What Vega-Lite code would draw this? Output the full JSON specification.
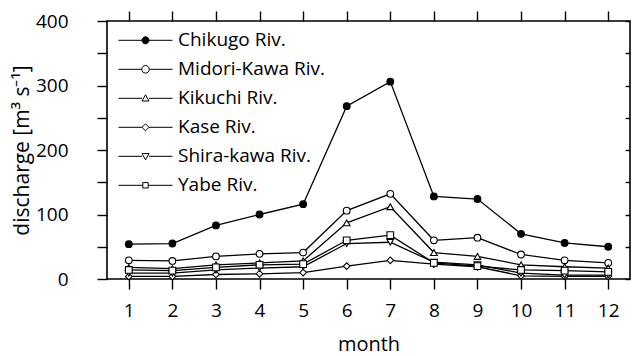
{
  "$schema": "https://vega.github.io/schema/vega-lite/v6.json",
  "width": 523,
  "height": 258,
  "autosize": "none",
  "padding": {"left": 107, "top": 21, "right": 7, "bottom": 77},
  "background": "white",
  "config": {
    "view": {"stroke": "black", "strokeWidth": 1.6},
    "font": "Open Sans",
    "axis": {"domain": false, "grid": false, "tickColor": "black", "labelColor": "black", "titleColor": "black", "tickWidth": 1.4, "labelFont": "Open Sans", "titleFont": "Open Sans", "labelFontWeight": "normal", "titleFontWeight": "normal"}
  },
  "data": {"values": [
    {"month":1,"river":"Chikugo Riv.","q":54},{"month":2,"river":"Chikugo Riv.","q":55},{"month":3,"river":"Chikugo Riv.","q":83},{"month":4,"river":"Chikugo Riv.","q":100},{"month":5,"river":"Chikugo Riv.","q":116},{"month":6,"river":"Chikugo Riv.","q":268},{"month":7,"river":"Chikugo Riv.","q":306},{"month":8,"river":"Chikugo Riv.","q":128},{"month":9,"river":"Chikugo Riv.","q":124},{"month":10,"river":"Chikugo Riv.","q":70},{"month":11,"river":"Chikugo Riv.","q":56},{"month":12,"river":"Chikugo Riv.","q":50},
    {"month":1,"river":"Midori-Kawa Riv.","q":29},{"month":2,"river":"Midori-Kawa Riv.","q":28},{"month":3,"river":"Midori-Kawa Riv.","q":35},{"month":4,"river":"Midori-Kawa Riv.","q":39},{"month":5,"river":"Midori-Kawa Riv.","q":41},{"month":6,"river":"Midori-Kawa Riv.","q":106},{"month":7,"river":"Midori-Kawa Riv.","q":132},{"month":8,"river":"Midori-Kawa Riv.","q":60},{"month":9,"river":"Midori-Kawa Riv.","q":64},{"month":10,"river":"Midori-Kawa Riv.","q":38},{"month":11,"river":"Midori-Kawa Riv.","q":29},{"month":12,"river":"Midori-Kawa Riv.","q":25},
    {"month":1,"river":"Kikuchi Riv.","q":18},{"month":2,"river":"Kikuchi Riv.","q":16},{"month":3,"river":"Kikuchi Riv.","q":22},{"month":4,"river":"Kikuchi Riv.","q":25},{"month":5,"river":"Kikuchi Riv.","q":28},{"month":6,"river":"Kikuchi Riv.","q":87},{"month":7,"river":"Kikuchi Riv.","q":112},{"month":8,"river":"Kikuchi Riv.","q":41},{"month":9,"river":"Kikuchi Riv.","q":35},{"month":10,"river":"Kikuchi Riv.","q":22},{"month":11,"river":"Kikuchi Riv.","q":19},{"month":12,"river":"Kikuchi Riv.","q":17},
    {"month":1,"river":"Kase Riv.","q":4},{"month":2,"river":"Kase Riv.","q":4},{"month":3,"river":"Kase Riv.","q":7},{"month":4,"river":"Kase Riv.","q":8},{"month":5,"river":"Kase Riv.","q":10},{"month":6,"river":"Kase Riv.","q":20},{"month":7,"river":"Kase Riv.","q":29},{"month":8,"river":"Kase Riv.","q":23},{"month":9,"river":"Kase Riv.","q":19},{"month":10,"river":"Kase Riv.","q":5},{"month":11,"river":"Kase Riv.","q":4},{"month":12,"river":"Kase Riv.","q":4},
    {"month":1,"river":"Shira-kawa Riv.","q":9},{"month":2,"river":"Shira-kawa Riv.","q":9},{"month":3,"river":"Shira-kawa Riv.","q":14},{"month":4,"river":"Shira-kawa Riv.","q":17},{"month":5,"river":"Shira-kawa Riv.","q":19},{"month":6,"river":"Shira-kawa Riv.","q":55},{"month":7,"river":"Shira-kawa Riv.","q":57},{"month":8,"river":"Shira-kawa Riv.","q":26},{"month":9,"river":"Shira-kawa Riv.","q":22},{"month":10,"river":"Shira-kawa Riv.","q":9},{"month":11,"river":"Shira-kawa Riv.","q":6},{"month":12,"river":"Shira-kawa Riv.","q":6},
    {"month":1,"river":"Yabe Riv.","q":14},{"month":2,"river":"Yabe Riv.","q":13},{"month":3,"river":"Yabe Riv.","q":18},{"month":4,"river":"Yabe Riv.","q":22},{"month":5,"river":"Yabe Riv.","q":23},{"month":6,"river":"Yabe Riv.","q":60},{"month":7,"river":"Yabe Riv.","q":68},{"month":8,"river":"Yabe Riv.","q":25},{"month":9,"river":"Yabe Riv.","q":20},{"month":10,"river":"Yabe Riv.","q":14},{"month":11,"river":"Yabe Riv.","q":13},{"month":12,"river":"Yabe Riv.","q":11}
  ]},
  "layer": [
    {
      "mark": {"type": "line", "color": "black", "strokeWidth": 1.3},
      "encoding": {
        "x": {"field": "month", "type": "quantitative", "scale": {"domain": [0.5, 12.5], "nice": false, "zero": false},
          "axis": {"orient": "bottom", "values": [1,2,3,4,5,6,7,8,9,10,11,12], "tickSize": 10, "labelFontSize": 19, "labelPadding": 12, "title": "month", "titleFontSize": 20, "titlePadding": 14}},
        "y": {"field": "q", "type": "quantitative", "scale": {"domain": [0, 400], "nice": false},
          "axis": {"orient": "left", "values": [0,50,100,150,200,250,300,350,400], "labelExpr": "datum.value % 100 === 0 ? datum.label : ''", "tickSize": 10, "labelFontSize": 19, "labelPadding": 29, "title": "discharge [m³ s⁻¹]", "titleFontSize": 21, "titlePadding": 3,
            "encode": {"labels": {"update": {"dx": {"value": -9}}}}}},
        "detail": {"field": "river", "type": "nominal"}
      }
    },
    {
      "mark": {"type": "point", "filled": false, "stroke": "black", "strokeWidth": 1.1, "opacity": 1, "size": 45},
      "encoding": {
        "x": {"field": "month", "type": "quantitative",
          "axis": {"orient": "top", "values": [1,2,3,4,5,6,7,8,9,10,11,12], "labels": false, "tickSize": 10, "title": null}},
        "y": {"field": "q", "type": "quantitative",
          "axis": {"orient": "right", "values": [0,50,100,150,200,250,300,350,400], "labels": false, "tickSize": -5, "title": null}},
        "shape": {"field": "river", "type": "nominal",
          "scale": {"domain": ["Chikugo Riv.","Midori-Kawa Riv.","Kikuchi Riv.","Kase Riv.","Shira-kawa Riv.","Yabe Riv."], "range": ["circle","circle","triangle-up","diamond","triangle-down","square"]},
          "legend": null},
        "fill": {"condition": {"test": "datum.river === 'Chikugo Riv.'", "value": "black"}, "value": "white"}
      }
    },
    {
      "mark": {"type": "point", "opacity": 0, "filled": true, "stroke": "black", "strokeWidth": 1},
      "encoding": {
        "x": {"field": "month", "type": "quantitative", "axis": null},
        "y": {"field": "q", "type": "quantitative", "axis": null},
        "fill": {"field": "river", "type": "nominal",
          "scale": {"domain": ["Chikugo Riv.","Midori-Kawa Riv.","Kikuchi Riv.","Kase Riv.","Shira-kawa Riv.","Yabe Riv."], "range": ["black","white","white","white","white","white"]},
          "legend": {"orient": "none", "legendX": 11, "legendY": 5, "title": null, "symbolSize": 2916, "symbolStrokeWidth": 1, "symbolStrokeColor": "black", "symbolOpacity": 1, "labelFontSize": 19, "labelFont": "Open Sans", "labelColor": "black", "labelOffset": 5, "rowPadding": 0, "clipHeight": 28.6,
            "encode": {"symbols": {"update": {"stroke": {"value": "black"}, "strokeWidth": {"value": 1}, "strokeOpacity": {"value": 1}}}}}},
        "shape": {"field": "river", "type": "nominal",
          "scale": {"domain": ["Chikugo Riv.","Midori-Kawa Riv.","Kikuchi Riv.","Kase Riv.","Shira-kawa Riv.","Yabe Riv."],
            "range": [
              "M-1,0H-0.13M0.13,0H1M-0.13,0A0.13,0.13 0 1,0 0.13,0A0.13,0.13 0 1,0 -0.13,0Z",
              "M-1,0H-0.14M0.14,0H1M-0.14,0A0.14,0.14 0 1,0 0.14,0A0.14,0.14 0 1,0 -0.14,0Z",
              "M-1,0H-0.13M0.13,0H1M0,-0.13L0.13,0.1L-0.13,0.1Z",
              "M-1,0H-0.13M0.13,0H1M0,-0.13L0.13,0L0,0.13L-0.13,0Z",
              "M-1,0H-0.13M0.13,0H1M0,0.13L0.13,-0.1L-0.13,-0.1Z",
              "M-1,0H-0.1M0.1,0H1M-0.1,-0.1H0.1V0.1H-0.1Z"
            ]},
          "legend": {"orient": "none", "legendX": 11, "legendY": 5, "title": null, "symbolSize": 2916, "symbolStrokeWidth": 1, "symbolStrokeColor": "black", "symbolOpacity": 1, "labelFontSize": 19, "labelFont": "Open Sans", "labelColor": "black", "labelOffset": 5, "rowPadding": 0, "clipHeight": 28.6,
            "encode": {"symbols": {"update": {"stroke": {"value": "black"}, "strokeWidth": {"value": 1}, "strokeOpacity": {"value": 1}}}}}
        }
      }
    }
  ],
  "resolve": {"scale": {"shape": "independent", "fill": "independent"}, "axis": {"x": "independent", "y": "independent"}}
}
